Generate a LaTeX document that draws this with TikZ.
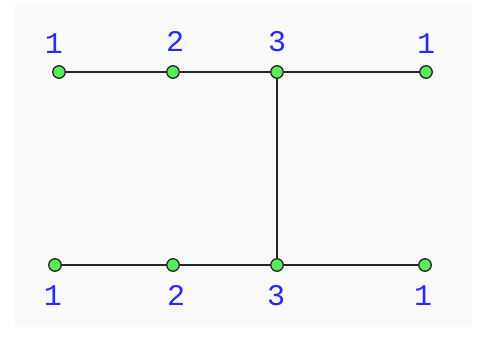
\documentclass[tikz,border=0pt]{standalone}
\usepackage{fontspec}
\setmonofont{Liberation Mono}
\usetikzlibrary{positioning}
\definecolor{panelgray}{HTML}{F9F9F9}
\definecolor{dotgreen}{HTML}{55EE55}
\definecolor{numblue}{HTML}{2828FF}

\begin{document}
\begin{tikzpicture}[
  x=1pt,y=-1pt,
  vertex/.style={circle,draw=black!85,fill=dotgreen,line width=1.3pt,minimum size=12.5pt,inner sep=0pt},
  num/.style={font=\ttfamily\fontsize{30}{30}\selectfont,text=numblue,inner sep=0pt,anchor=base},
  edge/.style={line width=1.4pt,black!85}
]
\useasboundingbox (0,0) rectangle (478,337);
\fill[panelgray] (15,4) rectangle (472,327);

% upper chain
\node[vertex] (t1) at (59,72) {};
\node[vertex] (t2) at (173,72) {};
\node[vertex] (t3) at (277,72) {};
\node[vertex] (t4) at (426,72) {};
% lower chain
\node[vertex] (b1) at (55,265) {};
\node[vertex] (b2) at (173,265) {};
\node[vertex] (b3) at (277,265) {};
\node[vertex] (b4) at (425,265) {};

\draw[edge] (t1) -- (t2);
\draw[edge] (t2) -- (t3);
\draw[edge] (t3) -- (t4);
\draw[edge] (t3) -- (b3);
\draw[edge] (b1) -- (b2);
\draw[edge] (b2) -- (b3);
\draw[edge] (b3) -- (b4);

% numbers
\node[num] (lt1) at (54,53) {1};
\node[num] (lt2) at (175,52) {2};
\node[num] (lt3) at (277,52) {3};
\node[num] (lt4) at (426,53) {1};
\node[num] (lb1) at (53,305) {1};
\node[num] (lb2) at (176,305) {2};
\node[num] (lb3) at (276,305) {3};
\node[num] (lb4) at (423,305) {1};
\end{tikzpicture}
\end{document}
